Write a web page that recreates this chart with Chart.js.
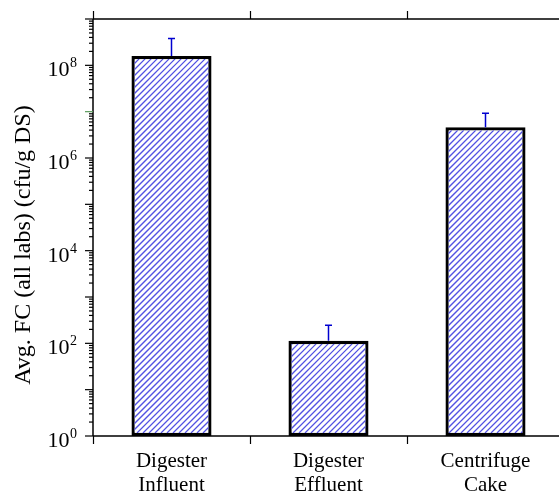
<!DOCTYPE html>
<html>
<head>
<meta charset="utf-8">
<script src="https://cdn.jsdelivr.net/npm/chart.js@4/dist/chart.umd.min.js"></script>
<style>
  html, body { margin: 0; padding: 0; background: #fff; overflow: hidden; }
  #wrap { width: 566px; height: 493px; }
</style>
</head>
<body>
<div id="wrap"><canvas id="chart" width="566" height="493"></canvas></div>
<script>
const categories = [['Digester', 'Influent'], ['Digester', 'Effluent'], ['Centrifuge', 'Cake']];
const values = [1.6e8, 113, 4.6e6];
const errors = [2.2e8, 134, 4.7e6]; // upper error only
const yTickExps = [0, 2, 4, 6, 8];
const yTitle = 'Avg. FC (all labs) (cfu/g DS)';

const SERIF = '"Liberation Serif", "Times New Roman", serif';

const frame = {
  id: 'frame',
  afterDatasetsDraw(chart) {
    const { ctx, chartArea: { left, top, bottom }, scales: { x, y } } = chart;
    const meta = chart.getDatasetMeta(0);
    ctx.save();

    // diagonal hatch inside each bar
    meta.data.forEach(bar => {
      const { x: bx, y: by, base, width } = bar.getProps(['x', 'y', 'base', 'width'], true);
      const x0 = bx - width / 2 + 3, x1 = bx + width / 2 - 3;
      const y0 = by + 3, y1 = base - 3;
      ctx.save();
      ctx.beginPath();
      ctx.rect(x0, y0, x1 - x0, y1 - y0);
      ctx.clip();
      ctx.strokeStyle = '#5252e2';
      ctx.lineWidth = 1.25;
      ctx.beginPath();
      const s = 6;
      const cStart = Math.floor((x0 + y0) / s) * s;
      for (let c = cStart; c <= x1 + y1 + s; c += s) {
        ctx.moveTo(c - y1, y1);
        ctx.lineTo(c - y0, y0);
      }
      ctx.stroke();
      ctx.restore();
    });

    // error bars
    ctx.strokeStyle = '#0000d0';
    ctx.lineWidth = 1.5;
    meta.data.forEach((bar, i) => {
      const yTop = y.getPixelForValue(values[i] + errors[i]);
      ctx.beginPath();
      ctx.moveTo(bar.x, bar.y);
      ctx.lineTo(bar.x, yTop);
      ctx.moveTo(bar.x - 3.5, yTop);
      ctx.lineTo(bar.x + 3.5, yTop);
      ctx.stroke();
    });

    // axes lines
    ctx.strokeStyle = '#000';
    ctx.lineWidth = 1.5;
    ctx.beginPath();
    ctx.moveTo(left, top); ctx.lineTo(chart.width, top);
    ctx.moveTo(left, bottom); ctx.lineTo(chart.width, bottom);
    ctx.moveTo(left, top); ctx.lineTo(left, bottom);
    ctx.stroke();

    // category boundary ticks (outside, top and bottom)
    const step = x.getPixelForValue(1) - x.getPixelForValue(0);
    ctx.lineWidth = 1.2;
    for (let i = 0; i <= categories.length; i++) {
      const px = Math.round(x.getPixelForValue(0) - step / 2 + i * step) + 0.5;
      ctx.beginPath();
      ctx.moveTo(px, top); ctx.lineTo(px, top - 8);
      ctx.moveTo(px, bottom); ctx.lineTo(px, bottom + 8);
      ctx.stroke();
    }

    // log ticks on the left
    for (let e = 0; e <= 9; e++) {
      for (let k = 1; k <= 9; k++) {
        const v = k * Math.pow(10, e);
        if (v > y.max) break;
        const py = y.getPixelForValue(v);
        const len = k === 1 ? 8 : 4;
        ctx.strokeStyle = (k === 1 && e === 7) ? '#5a9a5a' : '#000';
        ctx.lineWidth = 1.2;
        ctx.beginPath();
        ctx.moveTo(left, py); ctx.lineTo(left - len, py);
        ctx.stroke();
      }
    }

    // y labels 10^n
    ctx.fillStyle = '#000';
    ctx.textAlign = 'right';
    ctx.textBaseline = 'alphabetic';
    yTickExps.forEach(e => {
      const py = y.getPixelForValue(Math.pow(10, e));
      ctx.font = '14px ' + SERIF;
      const ew = ctx.measureText(String(e)).width;
      ctx.fillText(String(e), 77, py + 2);
      ctx.font = '22px ' + SERIF;
      ctx.fillText('10', 77 - ew - 0.5, py + 11);
    });

    // x labels
    ctx.textAlign = 'center';
    ctx.font = '21px ' + SERIF;
    categories.forEach((lines, i) => {
      const px = x.getPixelForValue(i);
      lines.forEach((t, j) => ctx.fillText(t, px, 467 + j * 24));
    });

    // y title
    ctx.translate(24, 245);
    ctx.rotate(-Math.PI / 2);
    ctx.textBaseline = 'middle';
    ctx.font = '24px ' + SERIF;
    ctx.fillText(yTitle, 0, 0);

    ctx.restore();
  },
};

const config = {
  type: 'bar',
  data: {
    labels: categories,
    datasets: [{
      data: values,
      backgroundColor: '#fff',
      borderColor: '#000',
      borderWidth: 3.3,
      borderSkipped: false,
      categoryPercentage: 1,
      barPercentage: 0.51,
    }],
  },
  options: {
    responsive: false,
    animation: false,
    layout: { padding: { left: 93, right: 2, top: 19, bottom: 57 } },
    scales: {
      x: { display: false },
      y: { type: 'logarithmic', min: 1, max: 1e9, display: false },
    },
    plugins: {
      legend: { display: false },
      tooltip: { enabled: false },
    },
  },
  plugins: [frame],
};

new Chart(document.getElementById('chart'), config);
</script>
</body>
</html>
